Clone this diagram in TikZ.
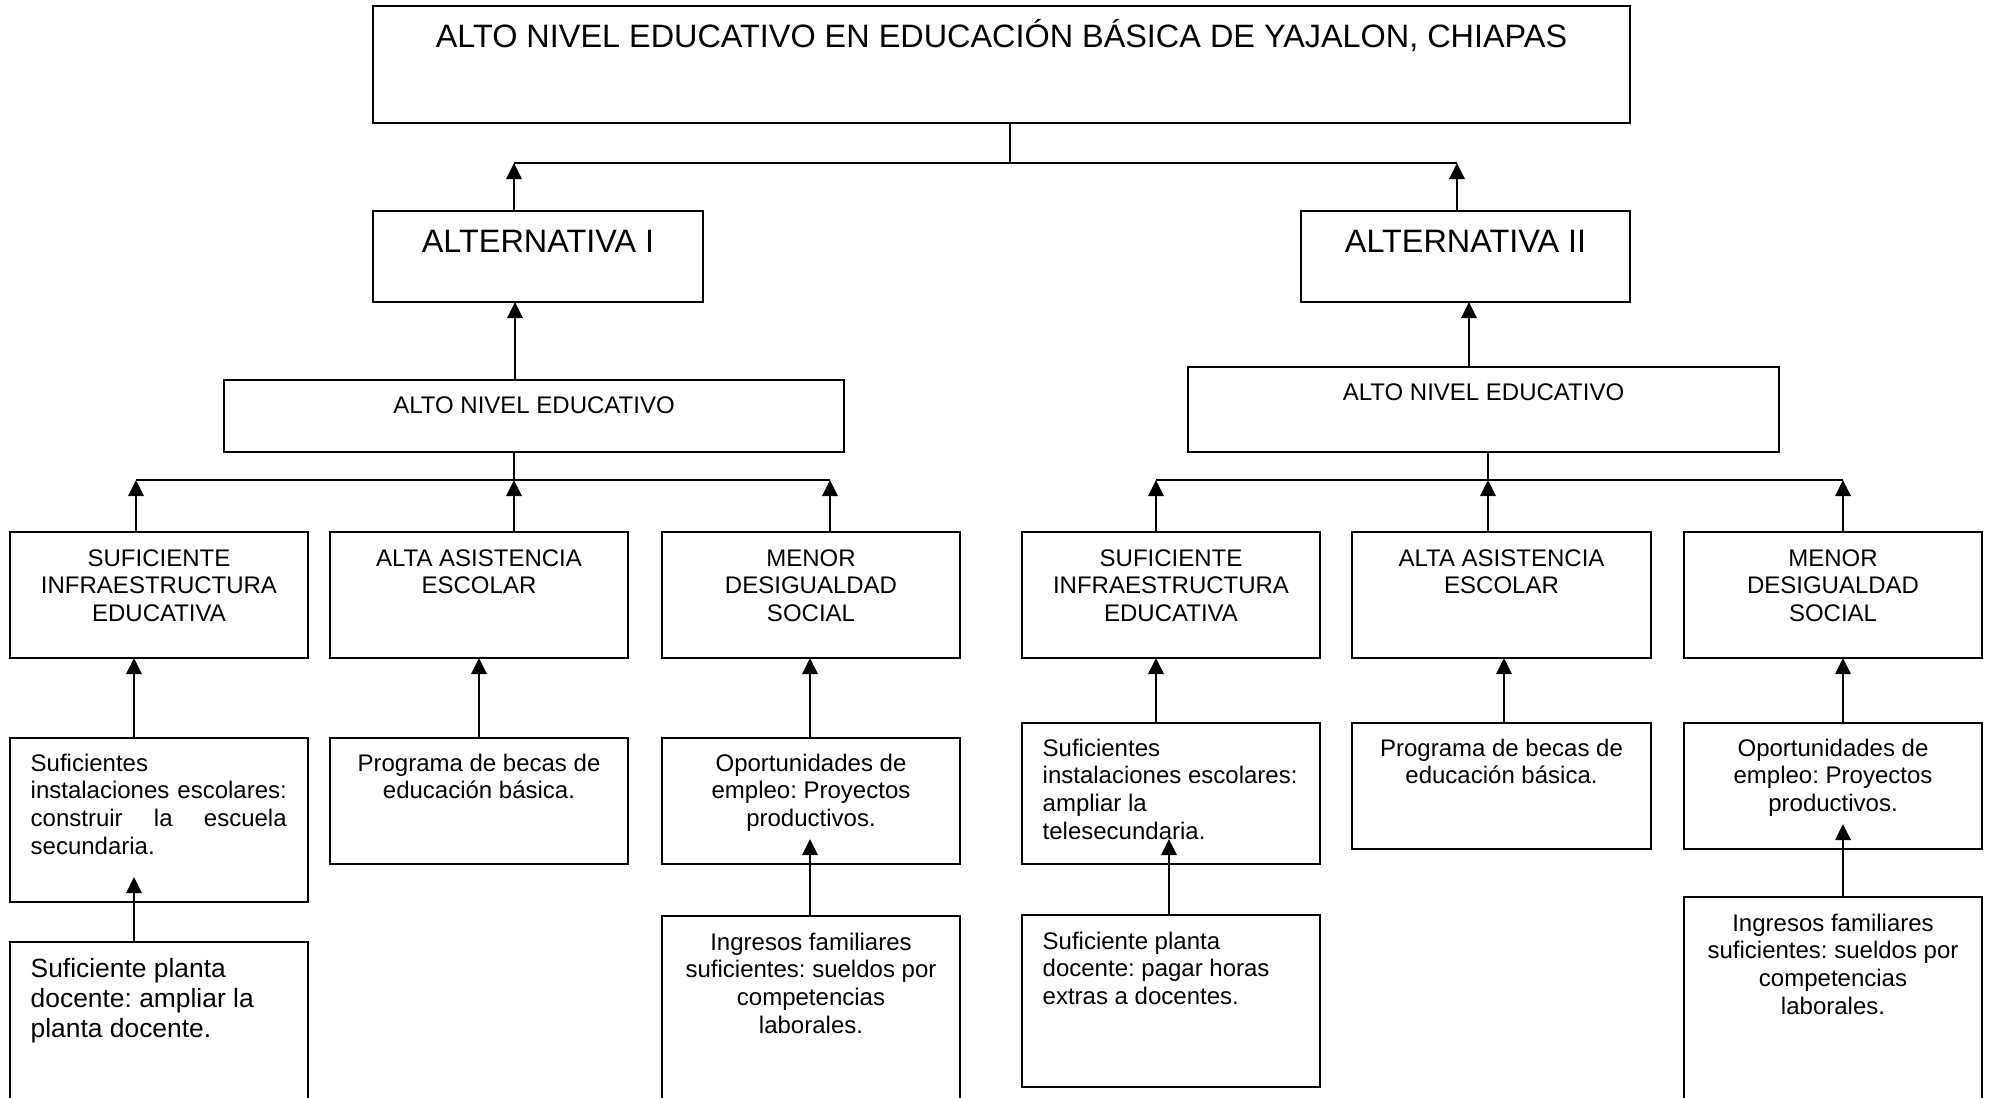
\documentclass[tikz,border=0pt]{standalone}
\usepackage{fontspec}
\setmainfont{Liberation Sans}
\usetikzlibrary{arrows.meta}
\frenchspacing
\newcommand{\fl}{\rule{0pt}{0.95em}}
\newcommand{\fsA}{\fontsize{32.4}{37}\selectfont}
\newcommand{\fsB}{\fontsize{24}{27.6}\selectfont}
\newcommand{\fsC}{\fontsize{26.4}{30.4}\selectfont}
\newcommand{\bx}[5]{\node[boxy, minimum width=#4pt, minimum height=#5pt] (#1) at (#2,#3) {};}
\begin{document}
\begin{tikzpicture}[x=1pt,y=-1pt,
  boxy/.style={draw, line width=2.8pt, anchor=north west, inner sep=0pt, outer sep=0pt},
  ctext/.style={anchor=north, align=center, inner sep=0pt, font=\fsB},
  ltext/.style={anchor=north west, align=left, inner sep=0pt, font=\fsB},
  ln/.style={line width=2.8pt},
  thinln/.style={line width=1.7pt},
  arr/.style={line width=2.8pt, -{Triangle[length=16pt,width=15pt]}}]
\useasboundingbox (0,0) rectangle (1993,1097);
\clip (0,0) rectangle (1993,1097);
% boxes: name, x, y, width, height
\bx{top}{373}{6}{1257}{117}
\bx{altI}{373}{211}{330}{91}
\bx{altII}{1301}{211}{329}{91}
\bx{anI}{224}{380}{620}{72}
\bx{anII}{1188}{367}{591}{85}
\bx{s1}{10}{532}{298}{126}
\bx{s2}{330}{532}{298}{126}
\bx{s3}{662}{532}{298}{126}
\bx{s4}{1022}{532}{298}{126}
\bx{s5}{1352}{532}{299}{126}
\bx{s6}{1684}{532}{298}{126}
\bx{a1}{10}{738}{298}{164}
\bx{a2}{330}{738}{298}{126}
\bx{a3}{662}{738}{298}{126}
\bx{a4}{1022}{723}{298}{141}
\bx{a5}{1352}{723}{299}{126}
\bx{a6}{1684}{723}{298}{126}
\bx{p1}{10}{942}{298}{200}
\bx{p3}{662}{916}{298}{220}
\bx{p4}{1022}{915}{298}{172}
\bx{p6}{1684}{897}{298}{240}
% texts
\node[ctext, font=\fsA] (ttop) at ([yshift=-10.2pt]top.north) {\fl ALTO NIVEL EDUCATIVO EN EDUCACIÓN BÁSICA DE YAJALON, CHIAPAS};
\node[ctext, font=\fsA] (taltI) at ([yshift=-10.2pt]altI.north) {\fl ALTERNATIVA I};
\node[ctext, font=\fsA] (taltII) at ([yshift=-10.2pt]altII.north) {\fl ALTERNATIVA II};
\node[ctext] (tanI) at ([yshift=-10.2pt]anI.north) {\fl ALTO NIVEL EDUCATIVO};
\node[ctext] (tanII) at ([yshift=-10.2pt]anII.north) {\fl ALTO NIVEL EDUCATIVO};
\node[ctext] (ts1) at ([yshift=-11.2pt]s1.north) {\fl SUFICIENTE\\ INFRAESTRUCTURA\\ EDUCATIVA};
\node[ctext] (ts2) at ([yshift=-11.2pt]s2.north) {\fl ALTA ASISTENCIA\\ ESCOLAR};
\node[ctext] (ts3) at ([yshift=-11.2pt]s3.north) {\fl MENOR\\ DESIGUALDAD\\ SOCIAL};
\node[ctext] (ts4) at ([yshift=-11.2pt]s4.north) {\fl SUFICIENTE\\ INFRAESTRUCTURA\\ EDUCATIVA};
\node[ctext] (ts5) at ([yshift=-11.2pt]s5.north) {\fl ALTA ASISTENCIA\\ ESCOLAR};
\node[ctext] (ts6) at ([yshift=-11.2pt]s6.north) {\fl MENOR\\ DESIGUALDAD\\ SOCIAL};
\node[ltext, text width=262pt] (ta1) at ([xshift=20.5pt,yshift=-10.2pt]a1.north west) {\fl Suficientes\\ instalaciones escolares:\\ \makebox[256pt][l]{construir\hfill la\hfill escuela}\\ secundaria.};
\node[ctext] (ta2) at ([yshift=-10.2pt]a2.north) {\fl Programa de becas de\\ educación básica.};
\node[ctext] (ta3) at ([yshift=-10.2pt]a3.north) {\fl Oportunidades de\\ empleo: Proyectos\\ productivos.};
\node[ltext] (ta4) at ([xshift=20.5pt,yshift=-10.2pt]a4.north west) {\fl Suficientes\\ instalaciones escolares:\\ ampliar la\\ telesecundaria.};
\node[ctext] (ta5) at ([yshift=-10.2pt]a5.north) {\fl Programa de becas de\\ educación básica.};
\node[ctext] (ta6) at ([yshift=-10.2pt]a6.north) {\fl Oportunidades de\\ empleo: Proyectos\\ productivos.};
\node[ltext, font=\fsC] (tp1) at ([xshift=20.5pt,yshift=-9.9pt]p1.north west) {\fl Suficiente planta\\ docente: ampliar la\\ planta docente.};
\node[ctext] (tp3) at ([yshift=-11.2pt]p3.north) {\fl Ingresos familiares\\ suficientes: sueldos por\\ competencias\\ laborales.};
\node[ltext] (tp4) at ([xshift=20.5pt,yshift=-11.2pt]p4.north west) {\fl Suficiente planta\\ docente: pagar horas\\ extras a docentes.};
\node[ctext] (tp6) at ([yshift=-11.2pt]p6.north) {\fl Ingresos familiares\\ suficientes: sueldos por\\ competencias\\ laborales.};
% connector coordinates
\coordinate (jt) at (1010,163);
\coordinate (t1) at (514,163);
\coordinate (t2) at (1457,163);
\coordinate (v1) at (515,0);
\coordinate (v2) at (1469,0);
\coordinate (m1) at (514,480);
\coordinate (c1) at (136,480);
\coordinate (c3) at (830,480);
\coordinate (m2) at (1488,480);
\coordinate (c4) at (1156,480);
\coordinate (c6) at (1843,480);
\coordinate (k1) at (134,0);
\coordinate (k2) at (479,0);
\coordinate (k3) at (810,0);
\coordinate (k4) at (1156,0);
\coordinate (k5) at (1504,0);
\coordinate (k6) at (1843,0);
\coordinate (q4) at (1169,0);
\coordinate (e1) at ([yshift=25pt]a1.south);
\coordinate (e3) at ([yshift=25pt]a3.south);
\coordinate (e4) at ([yshift=25pt]a4.south);
\coordinate (e6) at ([yshift=25pt]a6.south);
% connectors
\draw[thinln] (jt |- top.south) -- (jt);
\draw[ln] (t1) -- (t2);
\draw[arr] (t1 |- altI.north) -- (t1);
\draw[arr] (t2 |- altII.north) -- (t2);
\draw[arr] (v1 |- anI.north) -- (v1 |- altI.south);
\draw[arr] (v2 |- anII.north) -- (v2 |- altII.south);
\draw[ln] (m1 |- anI.south) -- (m1);
\draw[ln] (c1) -- (c3);
\draw[arr] (c1 |- s1.north) -- (c1);
\draw[arr] (m1 |- s2.north) -- (m1);
\draw[arr] (c3 |- s3.north) -- (c3);
\draw[thinln] (m2 |- anII.south) -- (m2);
\draw[ln] (c4) -- (c6);
\draw[arr] (c4 |- s4.north) -- (c4);
\draw[arr] (m2 |- s5.north) -- (m2);
\draw[arr] (c6 |- s6.north) -- (c6);
\draw[arr] (k1 |- a1.north) -- (k1 |- s1.south);
\draw[arr] (k2 |- a2.north) -- (k2 |- s2.south);
\draw[arr] (k3 |- a3.north) -- (k3 |- s3.south);
\draw[arr] (k4 |- a4.north) -- (k4 |- s4.south);
\draw[arr] (k5 |- a5.north) -- (k5 |- s5.south);
\draw[arr] (k6 |- a6.north) -- (k6 |- s6.south);
\draw[arr] (k1 |- p1.north) -- (k1 |- e1);
\draw[arr] (k3 |- p3.north) -- (k3 |- e3);
\draw[arr] (q4 |- p4.north) -- (q4 |- e4);
\draw[arr] (k6 |- p6.north) -- (k6 |- e6);
\end{tikzpicture}
\end{document}
